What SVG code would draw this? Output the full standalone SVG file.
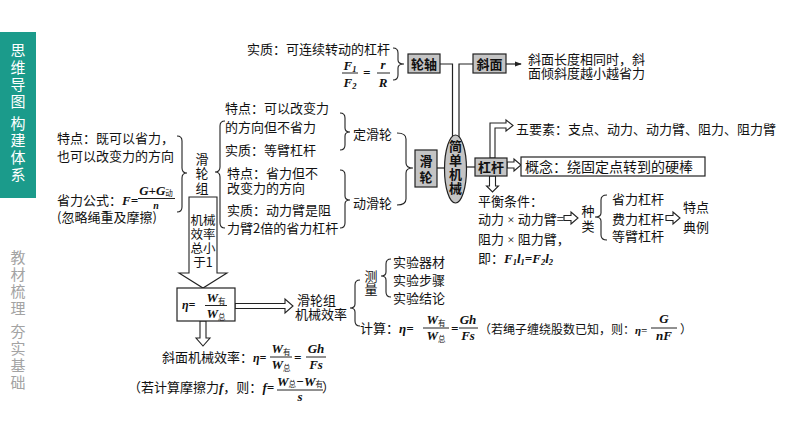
<svg xmlns="http://www.w3.org/2000/svg" width="794" height="447" viewBox="0 0 794 447">
<style>
text{font-family:"Noto Sans CJK SC","Noto Sans",sans-serif;font-size:13px;fill:#111}
.m{font-family:"Liberation Serif",serif;font-style:italic;font-weight:bold;font-size:13px}
.x{font-family:"Liberation Serif",serif;font-style:normal;font-weight:normal}
.s{font-family:"Noto Sans CJK SC",sans-serif;font-style:normal;font-weight:normal;font-size:7.5px}
.n{font-size:8.5px}
.c{text-anchor:middle}
.b{font-weight:bold}
.v{writing-mode:vertical-rl;text-orientation:upright}
.sb{font-size:15px;fill:#fff;letter-spacing:2px}
.sg{font-size:15px;fill:#a3a3a3;letter-spacing:2px}
.box{fill:#c4c4c4;stroke:#222;stroke-width:1.2}
.wb{fill:#fff;stroke:#222;stroke-width:1.2}
.ln{fill:none;stroke:#222;stroke-width:1.2}
.br{fill:none;stroke:#222;stroke-width:1.1}
.fr{stroke:#222;stroke-width:1}
.ha{fill:#fff;stroke:#222;stroke-width:1.1;stroke-linejoin:miter}
</style>
<defs>
<marker id="ah" viewBox="0 0 8 8" refX="7" refY="4" markerWidth="7" markerHeight="7" orient="auto" markerUnits="userSpaceOnUse">
<path d="M0 1 L8 4 L0 7 Z" fill="#222"/>
</marker>
</defs>
<rect width="794" height="447" fill="#fff"/>

<g id="sidebar">
<rect x="0" y="32" width="36" height="166" fill="#1b9b8b"/>
<text class="sb v" x="18" y="43">思维导图</text>
<text class="sb v" x="18" y="116">构建体系</text>
<text class="sg v" x="18" y="250">教材梳理</text>
<text class="sg v" x="18" y="324">夯实基础</text>
</g>

<g id="connectors">
<path class="ln" d="M440 64 H452.5 V137"/>
<path class="ln" d="M473 64 H459 V137"/>
<path class="ln" d="M506 64 H521" marker-end="url(#ah)"/>
<path class="ln" d="M437 168 H444.5"/>
<path class="ln" d="M466.5 167 H475"/>
<path class="ha" d="M490 158 V123 H506 V120 L513 125.5 L506 131 V128 H495 V158 Z"/>
<path class="ha" d="M507 162 H514 V159 L521 165 L514 171 V168 H507 Z"/>
<path class="ha" d="M489.5 176 V186 H486.5 L492.5 192 L498.5 186 H495.5 V176 Z"/>
<path class="ha" d="M564 215.5 H571 V212 L578 218 L571 224 V220.5 H564 Z"/>
<path class="ha" d="M666 215.5 H673 V212 L680 218 L673 224 V220.5 H666 Z"/>
<path class="ha" d="M189 197 H217 V273 H227 L203 288 L179 273 H189 Z"/>
<path class="ha" d="M235 303.5 H285 V299 L293 306 L285 313 V308.5 H235 Z"/>
<path class="ha" d="M200 321 V338 H196 L203 346 L210 338 H206 V321 Z"/>
<path class="br" d="M393 48 Q398 48 398 53 V60 Q398 64 404 64 Q398 64 398 68 V75 Q398 80 393 80"/>
<path class="br" d="M397 133 Q406 133 406 139 V163 Q406 168 413 168 Q406 168 406 173 V199 Q406 205 397 205"/>
<path class="br" d="M340 113 Q345 113 345 118 V128 Q345 132 350 132 Q345 132 345 136 V145 Q345 150 340 150"/>
<path class="br" d="M340 170 Q345 170 345 175 V196 Q345 200 350 200 Q345 200 345 204 V223 Q345 228 340 228"/>
<path class="br" d="M225 121 Q220 121 220 126 V167 Q220 172 215 172 Q220 172 220 177 V223 Q220 228 225 228"/>
<path class="br" d="M177 136 Q182 136 182 141 V168 Q182 173 187 173 Q182 173 182 178 V207 Q182 212 177 212"/>
<path class="br" d="M607 195 Q601 195 601 200 V213 Q601 217 595 217 Q601 217 601 221 V235 Q601 240 607 240"/>
<path class="br" d="M360 280 Q355 280 355 285 V304 Q355 308 350 308 Q355 308 355 312 V321 Q355 326 360 326"/>
<path class="br" d="M391 259 Q386 259 386 264 V272 Q386 276 381 276 Q386 276 386 280 V292 Q386 297 391 297"/>
</g>

<g id="n-lunzhou"><rect class="box" x="408" y="54" width="32" height="19"/><text class="c b" x="424" y="68.5">轮轴</text></g>
<g id="n-xiemian"><rect class="box" x="473" y="54" width="33" height="19"/><text class="c b" x="489.5" y="68.5">斜面</text></g>
<g id="n-hualun"><rect class="box" x="415" y="150" width="22" height="37"/><text class="v b" x="426" y="154.5" style="letter-spacing:3px">滑轮</text></g>
<g id="n-jiandan"><ellipse cx="455.5" cy="169" rx="11" ry="34" fill="#c4c4c4" stroke="#222" stroke-width="1.2"/><text class="v b" x="455.5" y="139.5" style="letter-spacing:1px">简单机械</text></g>
<g id="n-ganggan"><rect class="box" x="475" y="158" width="32" height="18"/><text class="c b" x="491" y="172">杠杆</text></g>
<g id="n-gainian"><rect class="wb" x="521" y="157" width="184" height="19"/><text x="525" y="171.5" style="font-size:14px">概念：绕固定点转到的硬棒</text></g>

<g id="n-lunzhou-info">
<text x="247" y="54">实质：可连续转动的杠杆</text>
<text class="m c" x="350" y="70">F<tspan class="n" dy="2">1</tspan></text>
<line class="fr" x1="342" y1="73" x2="358" y2="73"/>
<text class="m c" x="350" y="87">F<tspan class="n" dy="2">2</tspan></text>
<text class="m" x="363" y="77">=</text>
<text class="m c" x="383" y="69">r</text>
<line class="fr" x1="377" y1="73" x2="390" y2="73"/>
<text class="m c" x="383" y="87">R</text>
</g>

<g id="n-xiemian-info"><text x="528" y="64">斜面长度相同时，斜</text><text x="528" y="78">面倾斜度越小越省力</text></g>
<g id="n-wuyaosu"><text x="516" y="134">五要素：支点、动力、动力臂、阻力、阻力臂</text></g>

<g id="n-pingheng">
<text x="478" y="206">平衡条件：</text>
<text x="478" y="224">动力<tspan class="x"> × </tspan>动力臂=</text>
<text x="478" y="244">阻力<tspan class="x"> × </tspan>阻力臂，</text>
<text x="478" y="263">即：<tspan class="m">F<tspan class="n" dy="2">1</tspan><tspan dy="-2">l</tspan><tspan class="n" dy="2">1</tspan><tspan dy="-2">=F</tspan><tspan class="n" dy="2">2</tspan><tspan dy="-2">l</tspan><tspan class="n" dy="2">2</tspan></tspan></text>
</g>
<g id="n-zhonglei"><text class="v" x="588" y="204.5" style="letter-spacing:2px">种类</text>
<text x="612" y="204">省力杠杆</text><text x="612" y="224">费力杠杆</text><text x="612" y="241">等臂杠杆</text></g>
<g id="n-tedian"><text x="683" y="212">特点</text><text x="683" y="232">典例</text></g>

<g id="n-dinghualun">
<text x="225" y="113">特点：可以改变力</text>
<text x="225" y="132">的方向但不省力</text>
<text x="225" y="155">实质：等臂杠杆</text>
<text x="353" y="139">定滑轮</text>
</g>
<g id="n-donghualun">
<text x="227" y="178">特点：省力但不</text>
<text x="227" y="193">改变力的方向</text>
<text x="227" y="215">实质：动力臂是阻</text>
<text x="227" y="233">力臂2倍的省力杠杆</text>
<text x="353" y="208">动滑轮</text>
</g>
<g id="n-hualunzu">
<text class="v" x="202" y="152.5" style="letter-spacing:1.5px">滑轮组</text>
<text x="57" y="143">特点：既可以省力，</text>
<text x="57" y="161">也可以改变力的方向</text>
<text x="57" y="205">省力公式：<tspan class="m">F=</tspan></text>
<text class="m c" x="156" y="195">G+G<tspan class="s" dy="1">动</tspan></text>
<line class="fr" x1="138" y1="198.5" x2="175" y2="198.5"/>
<text class="m c" x="156" y="209" style="font-size:10px">n</text>
<text x="57" y="222">(忽略绳重及摩擦)</text>
</g>
<g id="n-xiaolv-note"><text class="c" style="font-size:12.5px"><tspan x="203" y="225">机械</tspan><tspan x="203" y="239">效率</tspan><tspan x="203" y="253">总小</tspan><tspan x="203" y="267">于1</tspan></text></g>

<g id="n-eta">
<rect class="wb" x="177" y="288" width="58" height="33"/>
<text class="m" x="182" y="309" style="font-size:12px">η=</text>
<text class="m c" x="216" y="302">W<tspan class="s" dy="2">有</tspan></text>
<line class="fr" x1="205" y1="305.5" x2="227" y2="305.5"/>
<text class="m c" x="216" y="318">W<tspan class="s" dy="2">总</tspan></text>
</g>

<g id="n-hualunzu-xiaolv">
<text x="297" y="305">滑轮组</text>
<text x="295" y="319">机械效率</text>
<text class="v" x="371" y="269.5">测量</text>
<text x="393" y="267">实验器材</text>
<text x="393" y="285">实验步骤</text>
<text x="393" y="303">实验结论</text>
<text x="360" y="333">计算：<tspan class="m" style="font-size:13px">η=</tspan></text>
<text class="m c" x="436" y="324">W<tspan class="s" dy="2">有</tspan></text>
<line class="fr" x1="423" y1="328" x2="449" y2="328"/>
<text class="m c" x="436" y="340">W<tspan class="s" dy="2">总</tspan></text>
<text class="m" x="451" y="333">=</text>
<text class="m c" x="468" y="324">Gh</text>
<line class="fr" x1="459" y1="328" x2="478" y2="328"/>
<text class="m c" x="468" y="340">Fs</text>
<text x="479" y="334" style="font-size:12px">（若绳子缠绕股数已知，则：<tspan class="m" style="font-size:11px">η=</tspan></text>
<text class="m c" x="664" y="323">G</text>
<line class="fr" x1="651" y1="328" x2="677" y2="328"/>
<text class="m c" x="664" y="340">nF</text>
<text x="680" y="334" style="font-size:12px">）</text>
</g>

<g id="n-xiemian-xiaolv">
<text x="162" y="362">斜面机械效率：<tspan class="m" style="font-size:12px">η=</tspan></text>
<text class="m c" x="281" y="353">W<tspan class="s" dy="2">有</tspan></text>
<line class="fr" x1="270" y1="357" x2="292" y2="357"/>
<text class="m c" x="281" y="369">W<tspan class="s" dy="2">总</tspan></text>
<text class="m" x="294" y="362">=</text>
<text class="m c" x="316" y="353">Gh</text>
<line class="fr" x1="306" y1="357" x2="326" y2="357"/>
<text class="m c" x="316" y="369">Fs</text>
<text x="128" y="392">（若计算摩擦力<tspan class="m">f</tspan>，则：<tspan class="m">f=</tspan></text>
<text class="m c" x="300" y="386">W<tspan class="s" dy="1">总</tspan><tspan dy="-1">−W</tspan><tspan class="s" dy="1">有</tspan></text>
<line class="fr" x1="277" y1="390" x2="323" y2="390"/>
<text class="m c" x="300" y="401">s</text>
<text x="322" y="392">）</text>
</g>
</svg>
